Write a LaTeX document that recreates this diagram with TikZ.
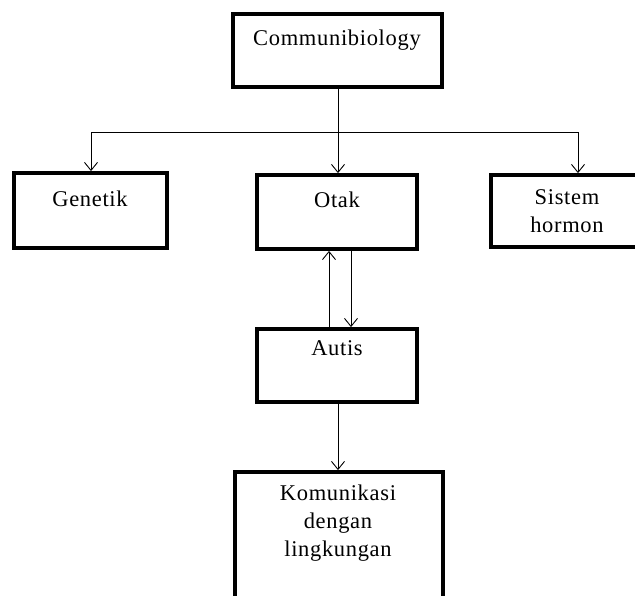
\documentclass[tikz,border=0pt]{standalone}
\usepackage{fontspec}
\setmainfont{Liberation Serif}[LetterSpace=3]
\usetikzlibrary{arrows.meta}
\begin{document}
\begin{tikzpicture}[x=1pt,y=-1pt,
  box/.style={draw=black,line width=3.8pt,fill=white},
  lbl/.style={inner sep=0pt,font=\fontsize{22.5}{28}\selectfont,align=center},
  conn/.style={draw=black,line width=0.9pt},
  arr/.style={conn,-{Straight Barb[length=8pt,width=13pt,line width=0.9pt]}}]
\useasboundingbox (0,0) rectangle (635,595);
\clip (0,0) rectangle (635,595);
\fill[white] (0,0) rectangle (635,595);
% boxes
\node[box,minimum width=153pt,minimum height=75pt,inner sep=0pt] (gen) at (90.5,210.5) {};
\node[box,minimum width=160pt,minimum height=74pt,inner sep=0pt] (otak) at (337,212) {};
\node[box,minimum width=154pt,minimum height=72pt,inner sep=0pt] (sis) at (568,211) {};
\node[box,minimum width=160pt,minimum height=73pt,inner sep=0pt] (aut) at (337,365.5) {};
\node[box,minimum width=208pt,minimum height=160pt,inner sep=0pt] (kom) at (339,552) {};
\node[box,minimum width=209pt,minimum height=73pt,inner sep=0pt] (top) at (337.5,50.5) {};
% texts
\node[lbl] (topt) at (337,40) {Communibiology};
\node[lbl] (gent) at (90,199) {Genetik};
\node[lbl] (otakt) at (337,200) {Otak};
\node[lbl] (sist) at (567,211) {Sistem\\hormon};
\node[lbl] (autt) at (337,348) {Autis};
\node[lbl] (komt) at (338,523) {Komunikasi\\dengan\\lingkungan};
% connectors
\coordinate (j) at (338,132);
\coordinate (jl) at (91,132);
\coordinate (jr) at (578,132);
\draw[conn] (top.south -| j) -- (j);
\draw[conn] (jl) -- (jr);
\draw[arr] (jl) -- (jl |- gen.north);
\draw[arr] (j) -- (j |- otak.north);
\draw[arr] (jr) -- (jr |- sis.north);
\coordinate (up) at (329,0);
\coordinate (dn) at (351,0);
\draw[arr] (aut.north -| up) -- (otak.south -| up);
\draw[arr] (otak.south -| dn) -- (aut.north -| dn);
\coordinate (lo) at (338,0);
\draw[arr] (aut.south -| lo) -- (kom.north -| lo);
\end{tikzpicture}
\end{document}
